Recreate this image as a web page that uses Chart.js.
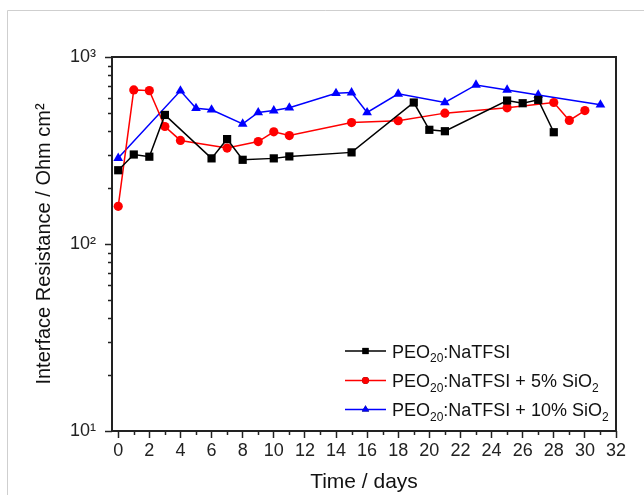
<!DOCTYPE html>
<html><head><meta charset="utf-8">
<style>html,body{margin:0;padding:0;background:#fff;}#wrap{width:644px;height:495px;position:relative;}canvas{display:block;}</style>
</head><body><div id="wrap"><canvas id="c" width="644" height="495"></canvas></div>
<script src="https://cdn.jsdelivr.net/npm/chart.js@4.4.1/dist/chart.umd.min.js"></script>
<script>
// ---- data ----
const daysPure = [0,1,2,3,6,7,8,10,11,15,19,20,21,25,26,27,28];
const resPure  = [248,301,293,490,287,364,282,287,294,309,571,408,401,585,566,590,396];
const daysSi5  = [0,1,2,3,4,7,9,10,11,15,18,21,25,28,29,30];
const resSi5   = [159,667,661,425,358,326,353,398,380,446,456,501,535,571,458,517];
const daysSi10 = [0,4,5,6,8,9,10,11,14,15,16,18,21,23,25,27,31];
const resSi10  = [288,660,532,522,439,505,517,535,640,645,505,635,571,709,667,627,555];
const seriesNames = [
  [['PEO',0],['20',1],[':NaTFSI',0]],
  [['PEO',0],['20',1],[':NaTFSI + 5% SiO',0],['2',1]],
  [['PEO',0],['20',1],[':NaTFSI + 10% SiO',0],['2',1]]
];
const xTickValues = [0,2,4,6,8,10,12,14,16,18,20,22,24,26,28,30,32];
const xMinorTicks = [1,3,5,7,9,11,13,15,17,19,21,23,25,27,29,31];
const yTickValues = [10,100,1000];
const yTickLabels = ['10\u00B9','10\u00B2','10\u00B3'];
const yMinorTicks = [20,30,40,50,60,70,80,90,200,300,400,500,600,700,800,900];
const xTitle = 'Time / days';
const yTitle = 'Interface Resistance / Ohm cm\u00B2';

const toXY = (xs, ys) => xs.map((x, i) => ({x: x, y: ys[i]}));
const FONT = "'Liberation Sans', Arial, sans-serif";
const AXIS = '#222';

const styles = [
  {color:'#000000', pointStyle:'rect', radius:5.8},
  {color:'#ff0000', pointStyle:'circle', radius:4.6},
  {color:'#0000ff', pointStyle:'triangle', radius:5.6}
];

function mkDs(label, xs, ys, st) {
  return {
    label: label, data: toXY(xs, ys), borderColor: st.color, backgroundColor: st.color,
    borderWidth: 1.5, pointStyle: st.pointStyle, pointRadius: st.radius,
    pointBorderWidth: 0, pointHoverRadius: st.radius, tension: 0, clip: false
  };
}

const framePlugin = {
  id: 'frame',
  beforeDraw(chart) {
    const ctx = chart.ctx;
    ctx.save();
    ctx.fillStyle = '#fff';
    ctx.fillRect(0, 0, chart.width, chart.height);
    ctx.strokeStyle = '#cfcfcf';
    ctx.lineWidth = 1;
    ctx.beginPath();
    ctx.moveTo(7.5, 495); ctx.lineTo(7.5, 10.5); ctx.lineTo(644, 10.5);
    ctx.stroke();
    ctx.restore();
  },
  afterDraw(chart) {
    const ctx = chart.ctx, a = chart.chartArea;
    const xs = chart.scales.x, ys = chart.scales.y;
    ctx.save();
    ctx.strokeStyle = AXIS;
    ctx.lineWidth = 2;
    ctx.strokeRect(a.left, a.top, a.right - a.left, a.bottom - a.top);
    // minor ticks
    ctx.lineWidth = 1.5;
    ctx.beginPath();
    xMinorTicks.forEach(v => {
      const px = Math.round(xs.getPixelForValue(v)) + 0.5;
      ctx.moveTo(px, a.bottom); ctx.lineTo(px, a.bottom + 4);
    });
    yMinorTicks.forEach(v => {
      const py = Math.round(ys.getPixelForValue(v)) + 0.5;
      ctx.moveTo(a.left, py); ctx.lineTo(a.left - 4, py);
    });
    ctx.stroke();
    // legend
    const rows = [351, 380.5, 409.5];
    const lx0 = 345, lx1 = 386, mx = 365.5, tx = 392;
    rows.forEach((y, i) => {
      const st = styles[i];
      ctx.strokeStyle = st.color;
      ctx.lineWidth = 1.5;
      ctx.beginPath(); ctx.moveTo(lx0, y); ctx.lineTo(lx1, y); ctx.stroke();
      Chart.helpers.drawPoint(ctx, {pointStyle: st.pointStyle, radius: st.radius * 0.75, borderWidth: 0}, mx, y);
      ctx.fillStyle = st.color;
      ctx.fill();
      let x = tx;
      ctx.fillStyle = '#111';
      ctx.textBaseline = 'alphabetic';
      ctx.textAlign = 'left';
      seriesNames[i].forEach(([t, sub]) => {
        if (sub) {
          ctx.font = '12px ' + FONT;
          ctx.fillText(t, x, y + 11);
        } else {
          ctx.font = '18px ' + FONT;
          ctx.fillText(t, x, y + 6.5);
        }
        x += ctx.measureText(t).width;
      });
    });
    ctx.restore();
  }
};

new Chart(document.getElementById('c'), {
  type: 'line',
  data: {
    datasets: [
      mkDs('PEO20:NaTFSI', daysPure, resPure, styles[0]),
      mkDs('PEO20:NaTFSI + 5% SiO2', daysSi5, resSi5, styles[1]),
      mkDs('PEO20:NaTFSI + 10% SiO2', daysSi10, resSi10, styles[2])
    ]
  },
  options: {
    responsive: false,
    devicePixelRatio: 1,
    animation: false,
    layout: {padding: {top: 57, right: 28, left: 0, bottom: 0}},
    plugins: {legend: {display: false}, tooltip: {enabled: false}, title: {display: false}},
    scales: {
      x: {
        type: 'linear', min: -0.4, max: 32,
        afterBuildTicks: s => { s.ticks = xTickValues.map(v => ({value: v})); },
        afterFit: s => { s.height = 64; },
        border: {display: false},
        grid: {drawOnChartArea: false, tickLength: 7, tickColor: AXIS, tickWidth: 1.5},
        ticks: {color: '#222', font: {family: FONT, size: 18}, padding: 2, maxRotation: 0, autoSkip: false},
        title: {display: true, text: xTitle, color: '#111', font: {family: FONT, size: 21}, padding: {top: 0, bottom: 0}}
      },
      y: {
        type: 'logarithmic', min: 10, max: 1000,
        afterBuildTicks: s => { s.ticks = yTickValues.map(v => ({value: v})); },
        afterFit: s => { s.width = 112; },
        border: {display: false},
        grid: {drawOnChartArea: false, tickLength: 7, tickColor: AXIS, tickWidth: 1.5},
        ticks: {color: '#222', font: {family: FONT, size: 18}, padding: 9, autoSkip: false,
          callback: (v) => { const i = yTickValues.indexOf(v); return i >= 0 ? yTickLabels[i] : ''; }},
        title: {display: true, text: yTitle, color: '#111', font: {family: FONT, size: 20}, padding: {top: 32, bottom: 0}}
      }
    }
  },
  plugins: [framePlugin]
});
</script>
</body></html>
